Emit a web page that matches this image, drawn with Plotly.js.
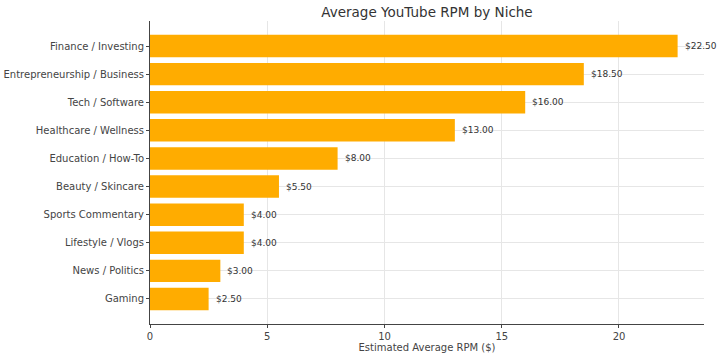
<!DOCTYPE html>
<html>
<head>
<meta charset="utf-8">
<script src="https://cdn.plot.ly/plotly-3.0.1.min.js"></script>
<style>html,body{margin:0;padding:0;background:#fff;}#chart{width:720px;height:357px;}</style>
</head>
<body>
<div id="chart"></div>
<script>
const niches = ["Finance / Investing","Entrepreneurship / Business","Tech / Software","Healthcare / Wellness","Education / How-To","Beauty / Skincare","Sports Commentary","Lifestyle / Vlogs","News / Politics","Gaming"];
const rpm = [22.5, 18.5, 16.0, 13.0, 8.0, 5.5, 4.0, 4.0, 3.0, 2.5];
const xTicks = [0, 5, 10, 15, 20];

const font = "DejaVu Sans, sans-serif";
const trace = {
  type: "bar",
  orientation: "h",
  y: niches,
  x: rpm,
  marker: {color: "#FFAC00", line: {width: 0}},
  width: 0.8,
  hoverinfo: "none"
};
const annotations = rpm.map((v, i) => ({
  x: v, y: niches[i], xref: "x", yref: "y",
  text: "$" + v.toFixed(2), showarrow: false,
  xanchor: "left", xshift: 5,
  font: {family: font, size: 9, color: "#333"}
}));
const layout = {
  width: 720, height: 357,
  margin: {l: 150, r: 16, t: 21, b: 33},
  paper_bgcolor: "#fff", plot_bgcolor: "#fff",
  showlegend: false,
  bargap: 0.2,
  title: {text: "Average YouTube RPM by Niche", font: {family: font, size: 13.5, color: "#333"}, x: 0.5, xanchor: "center", xref: "paper", y: 0.98, yanchor: "top"},
  xaxis: {
    range: [0, 23.625], tickvals: xTicks, ticktext: xTicks.map(String),
    ticks: "outside", ticklen: 3, tickcolor: "#444",
    showgrid: true, gridcolor: "#e6e6e6", gridwidth: 1,
    zeroline: false, showline: true, linecolor: "#444", linewidth: 1,
    tickfont: {family: font, size: 10, color: "#444"},
    title: {text: "Estimated Average RPM ($)", font: {family: font, size: 10, color: "#444"}, standoff: 2}
  },
  yaxis: {
    range: [9.89, -0.89], type: "category",
    ticks: "outside", ticklen: 3, tickcolor: "#444",
    showgrid: true, gridcolor: "#e6e6e6", gridwidth: 1,
    zeroline: false, showline: true, linecolor: "#444", linewidth: 1,
    tickfont: {family: font, size: 10, color: "#444"}
  },
  annotations: annotations
};
Plotly.newPlot("chart", [trace], layout, {displayModeBar: false, staticPlot: true});
</script>
</body>
</html>
